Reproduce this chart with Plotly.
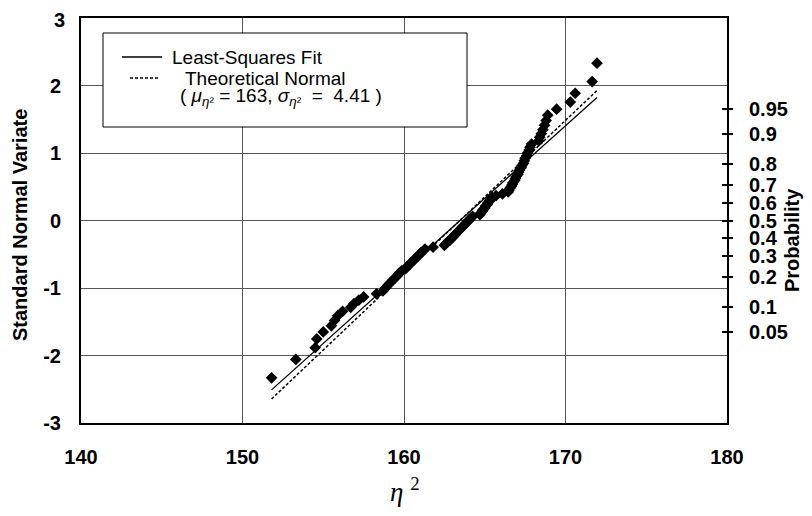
import plotly.graph_objects as go

eta_sq = [
    151.8, 153.3, 154.5, 154.6, 155.0, 155.5, 155.7, 155.9, 156.2, 156.7,
    156.9, 157.2, 157.5, 158.3, 158.7, 158.85, 159.0, 159.15, 159.3, 159.45,
    159.6, 159.7, 159.85, 160.1, 160.2, 160.35, 160.45, 160.6, 160.7, 160.85,
    160.95, 161.05, 161.2, 161.3, 161.8, 162.5, 162.6, 162.7, 162.85, 162.95,
    163.05, 163.15, 163.25, 163.35, 163.45, 163.55, 163.65, 163.75, 163.85, 163.95,
    164.05, 164.15, 164.25, 164.7, 164.75, 164.85, 164.9, 165.0, 165.05, 165.15,
    165.2, 165.3, 165.35, 165.45, 165.7, 166.1, 166.45, 166.5, 166.55, 166.65,
    166.7, 166.75, 166.85, 166.9, 166.95, 167.05, 167.1, 167.15, 167.25, 167.3,
    167.4, 167.45, 167.5, 167.6, 167.65, 167.75, 167.8, 167.9, 168.35, 168.4,
    168.5, 168.6, 168.7, 168.8, 168.9, 169.45, 170.3, 170.6, 171.65, 171.95,
]
normal_variate = [
    -2.33, -2.058, -1.885, -1.755, -1.65, -1.56, -1.481, -1.41, -1.346, -1.287,
    -1.232, -1.18, -1.132, -1.086, -1.043, -1.001, -0.961, -0.922, -0.885, -0.849,
    -0.814, -0.78, -0.746, -0.714, -0.682, -0.651, -0.621, -0.591, -0.562, -0.533,
    -0.505, -0.477, -0.449, -0.422, -0.395, -0.368, -0.342, -0.316, -0.29, -0.264,
    -0.238, -0.213, -0.187, -0.162, -0.137, -0.112, -0.087, -0.062, -0.037, -0.012,
    0.012, 0.037, 0.062, 0.087, 0.112, 0.137, 0.162, 0.187, 0.213, 0.238,
    0.264, 0.29, 0.316, 0.342, 0.368, 0.395, 0.422, 0.449, 0.477, 0.505,
    0.533, 0.562, 0.591, 0.621, 0.651, 0.682, 0.714, 0.746, 0.78, 0.814,
    0.849, 0.885, 0.922, 0.961, 1.001, 1.043, 1.086, 1.132, 1.18, 1.232,
    1.287, 1.346, 1.41, 1.481, 1.56, 1.65, 1.755, 1.885, 2.058, 2.33,
]

x_ticks = [140, 150, 160, 170, 180]
y_ticks = [-3, -2, -1, 0, 1, 2, 3]
y_labels = ["-3", "-2", "-1", "0", "1", "2", "3"]
prob_labels = ["0.05", "0.1", "0.2", "0.3", "0.4", "0.5", "0.6", "0.7", "0.8", "0.9", "0.95"]
prob_z = [-1.645, -1.282, -0.842, -0.524, -0.253, 0.0, 0.253, 0.524, 0.842, 1.282, 1.645]

fit_center, fit_slope = 163.47, 0.215      # least-squares line
mu_theory, sigma_theory = 163.46, 4.41     # theoretical normal

# plot area in page pixels; the html body adds an 8px margin around the figure
PAGE_OFF = 8
W, H = 812 - 2 * PAGE_OFF, 516 - 2 * PAGE_OFF
L, R, T, B = 81, 727, 18, 423


def px(xp):
    return (xp - L) / (R - L)


def py(yp):
    return (B - yp) / (B - T)


line_x = [min(eta_sq), max(eta_sq)]
fit_y = [(v - fit_center) * fit_slope for v in line_x]
theory_y = [(v - mu_theory) / sigma_theory for v in line_x]

fig = go.Figure()
fig.add_trace(go.Scatter(x=line_x, y=theory_y, mode="lines",
                         line=dict(color="black", width=1.5, dash="3px,2px")))
fig.add_trace(go.Scatter(x=line_x, y=fit_y, mode="lines",
                         line=dict(color="black", width=1.3)))
fig.add_trace(go.Scatter(x=eta_sq, y=normal_variate, mode="markers",
                         marker=dict(symbol="diamond", size=9, color="black")))
# dummy traces so the probability axes get drawn
fig.add_trace(go.Scatter(x=line_x, y=theory_y, yaxis="y2", mode="lines",
                         line=dict(width=0), hoverinfo="skip"))
fig.add_trace(go.Scatter(x=line_x, y=theory_y, yaxis="y3", mode="lines",
                         line=dict(width=0), hoverinfo="skip"))

tick_font = dict(family="Arial, Liberation Sans", size=20, color="black", weight="bold")
grid = dict(showgrid=True, gridcolor="#555", gridwidth=1, zeroline=False,
            showline=True, linecolor="black", linewidth=2, mirror=True, ticks="",
            automargin=False)

fig.update_layout(
    width=W, height=H,
    margin=dict(l=L - PAGE_OFF, r=W - (R - PAGE_OFF), t=T - PAGE_OFF, b=H - (B - PAGE_OFF)),
    paper_bgcolor="white", plot_bgcolor="white",
    showlegend=False,
    xaxis=dict(range=[140, 180], tickvals=x_ticks, tickfont=tick_font,
               ticklabelstandoff=15, **grid),
    # the top label "3" is added as an annotation, plotly drops it at the figure edge
    yaxis=dict(range=[-3, 3], tickvals=y_ticks[:-1], ticktext=y_labels[:-1],
               tickfont=tick_font, ticklabelstandoff=14, **grid),
    yaxis2=dict(range=[-3, 3], overlaying="y", side="right", tickvals=prob_z,
                ticktext=prob_labels, tickfont=tick_font, ticks="outside",
                ticklen=5, tickwidth=2, tickcolor="black", showgrid=False,
                zeroline=False, showline=False, ticklabelstandoff=12, automargin=False),
    yaxis3=dict(range=[-3, 3], overlaying="y", side="right", tickvals=prob_z,
                showticklabels=False, ticks="inside", ticklen=5, tickwidth=2,
                tickcolor="black", showgrid=False, zeroline=False, showline=False,
                automargin=False),
)
fig.update_yaxes(tickvals=y_ticks, selector=dict(anchor="x", overlaying=None))

fig.add_annotation(text=y_labels[-1], xref="paper", yref="y", x=0, y=y_ticks[-1],
                   xanchor="right", yanchor="middle", xshift=-14, yshift=-2,
                   showarrow=False, font=tick_font)

# legend box drawn by hand
fig.add_shape(type="rect", xref="paper", yref="paper",
              x0=px(103), x1=px(467), y0=py(127), y1=py(33),
              line=dict(color="black", width=1), fillcolor="white", layer="above")
fig.add_shape(type="line", xref="paper", yref="paper",
              x0=px(122), x1=px(162), y0=py(57), y1=py(57),
              line=dict(color="black", width=1.3), layer="above")
fig.add_shape(type="line", xref="paper", yref="paper",
              x0=px(130), x1=px(160), y0=py(78), y1=py(78),
              line=dict(color="black", width=1.3, dash="3px,2px"), layer="above")

leg_font = dict(family="Arial, Liberation Sans", size=19, color="black")
for text, xp, yp in [
    ("Least-Squares Fit", 170, 57),
    ("Theoretical Normal", 183, 78),
    ("( <i>μ</i><sub><i>η</i>²</sub> = 163, <i>σ</i><sub><i>η</i>²</sub>  =  4.41 )", 178, 97),
]:
    fig.add_annotation(text=text, xref="paper", yref="paper", x=px(xp), y=py(yp),
                       xanchor="left", yanchor="middle", showarrow=False, font=leg_font)

title_font = dict(family="Arial, Liberation Sans", size=20, color="black", weight="bold")
fig.add_annotation(text="Standard Normal Variate", xref="paper", yref="paper",
                   x=px(20), y=py(225), textangle=-90, xanchor="center", yanchor="middle",
                   showarrow=False, font=title_font)
fig.add_annotation(text="Probability", xref="paper", yref="paper",
                   x=px(792), y=py(240), textangle=-90, xanchor="center", yanchor="middle",
                   showarrow=False, font=title_font)
fig.add_annotation(text="<i>η</i> <sup>2</sup>", xref="paper", yref="paper",
                   x=px(405), y=py(490), xanchor="center", yanchor="middle", showarrow=False,
                   font=dict(family="Liberation Serif, Times New Roman", size=27, color="black"))

fig.write_html("out.html")
